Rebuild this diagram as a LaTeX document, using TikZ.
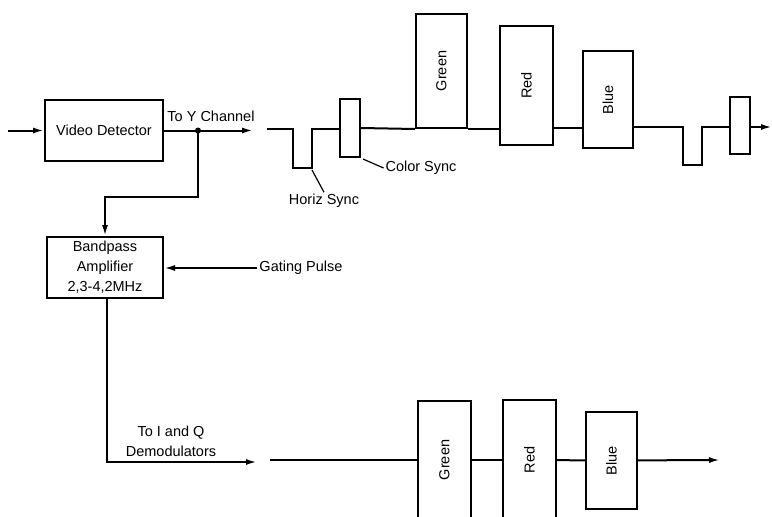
\documentclass[tikz,border=0pt]{standalone}
\usepackage{fontspec}
\setmainfont{Liberation Sans}
\usepackage{graphicx}
\usetikzlibrary{arrows.meta}
\begin{document}
\begin{tikzpicture}[x=1pt, y=-1pt, line width=2pt, >={Latex[length=11pt,width=6pt]},
  every node/.style={font=\fontsize{14.5}{20}\selectfont},
  blk/.style={draw,line width=2pt,inner sep=0pt,align=center},
  lbl/.style={inner sep=1pt,align=center},
  lead/.style={line width=1.2pt}]
\useasboundingbox (0,0) rectangle (772,517);
\clip (0,0) rectangle (772,517);
\coordinate (in) at (8,130.5);
\node[blk,minimum width=118pt,minimum height=61pt] (vdet) at (104,130.5) {Video Detector};
\coordinate (jn) at (198,130.5);
\coordinate (yout) at (253,130.5);
\node[lbl] (ylab) at (211,116) {To Y Channel};
\node[blk,minimum width=116pt,minimum height=61pt] (bpa) at (105,267.5) {Bandpass\\Amplifier\\2,3-4,2MHz};
\node[lbl] (gate) at (301,268) {Gating Pulse};
\coordinate (iqout) at (257,462);
\node[lbl] (iqlab) at (171,441) {To I and Q\\Demodulators};
\draw[->] (in) -- (vdet.west);
\draw[->] (vdet.east) -- (yout);
\fill (jn) circle (3pt);
\draw[->] (jn) -- ++(0,66.5) -| (bpa.north);
\draw[->] (gate.west) -- (gate.west -| bpa.east);
\draw[->] ([xshift=2pt]bpa.south) |- (iqout);
% composite video line
\coordinate (wst) at (267,129);
\node[blk,minimum width=20pt,minimum height=58pt] (cs1) at (350,128) {};
\node[blk,minimum width=51pt,minimum height=114pt] (g1) at (441.5,71) {\rotatebox{90}{Green}};
\node[blk,minimum width=53pt,minimum height=119pt] (r1) at (526.5,85.5) {\rotatebox{90}{Red}};
\node[blk,minimum width=50pt,minimum height=97pt] (b1) at (608,99.5) {\rotatebox{90}{Blue}};
\node[blk,minimum width=20pt,minimum height=57pt] (cs2) at (740,125.5) {};
\coordinate (vend) at (772,127);
\draw (wst) -- (293,129) -- (293,168) -- (312,168) -- (312,129) -- (cs1.west |- 0,129);
\draw (cs1.east |- 0,128) -- (g1.south west);
\draw (g1.south east) -- (r1.west |- g1.south east);
\draw (r1.east |- 0,127.5) -- (b1.west |- 0,127.5);
\draw (b1.east |- 0,127) -- (683,127) -- (683,165) -- (702,165) -- (702,127) -- (cs2.west |- 0,127);
\draw[->] (cs2.east |- vend) -- (vend);
\coordinate (hs) at (312,170);
\node[lbl] (hslab) at (324,201) {Horiz Sync};
\draw[lead] (hs) -- (hslab.north);
\node[lbl] (cslab) at (421,168) {Color Sync};
\draw[lead] ([shift={(2,1)}]cs1.south east) -- (cslab.west);
% chroma line
\coordinate (bst) at (270,460);
\node[blk,minimum width=53pt,minimum height=118pt] (g2) at (444.5,460) {\rotatebox{90}{Green}};
\node[blk,minimum width=53pt,minimum height=120pt] (r2) at (529.5,460) {\rotatebox{90}{Red}};
\node[blk,minimum width=51pt,minimum height=97pt] (b2) at (611.5,460.5) {\rotatebox{90}{Blue}};
\coordinate (cend) at (720,460);
\draw (bst) -- (g2);
\draw (g2) -- (r2);
\draw (r2) -- (b2);
\draw[->] (b2) -- (cend);
\end{tikzpicture}
\end{document}
